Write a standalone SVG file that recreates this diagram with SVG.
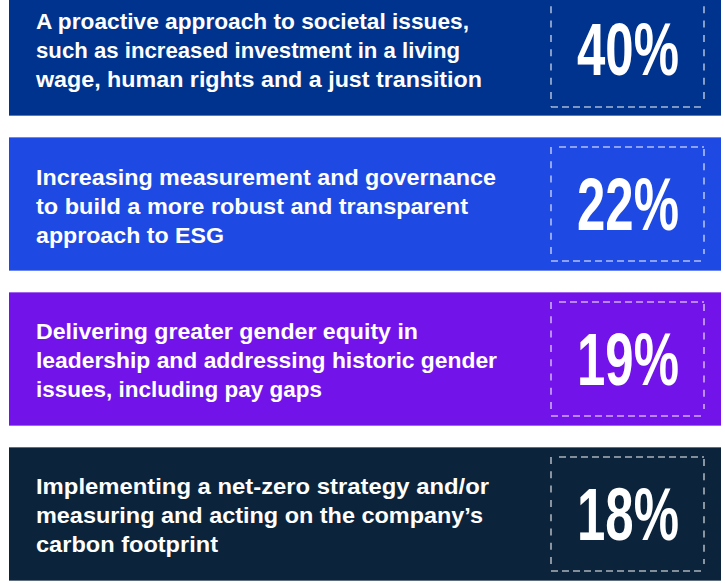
<svg xmlns="http://www.w3.org/2000/svg" width="725" height="583" viewBox="0 0 725 583">
<defs>
<style>
.bar-edge{stroke:#ffffff;stroke-opacity:0.35;stroke-width:1}
.lbl{font-family:"Liberation Sans",Arial,sans-serif;font-weight:bold;font-size:22px;fill:#ffffff}
.pct{font-family:"Liberation Sans",Arial,sans-serif;font-weight:bold;font-size:74px;fill:#ffffff;text-anchor:middle}
.dv{stroke:#ffffff;stroke-opacity:0.65;stroke-width:1.6;stroke-dasharray:7 7.3;fill:none}
.dh{stroke:#ffffff;stroke-opacity:0.65;stroke-width:1.6;stroke-dasharray:7 4;fill:none}
</style>
</defs>
<rect width="725" height="583" fill="#ffffff"/>

<g id="bar1">
<rect x="9" y="-18" width="712" height="134" fill="#00338D"/>
<line class="bar-edge" x1="9" y1="115.5" x2="721" y2="115.5"/>
<text class="lbl" x="36" y="29.3" textLength="433" lengthAdjust="spacingAndGlyphs">A proactive approach to societal issues,</text>
<text class="lbl" x="36" y="58.3" textLength="424" lengthAdjust="spacingAndGlyphs">such as increased investment in a living</text>
<text class="lbl" x="36" y="87.3" textLength="446" lengthAdjust="spacingAndGlyphs">wage, human rights and a just transition</text>
<line class="dv" x1="551" y1="-8" x2="551" y2="107"/>
<line class="dv" x1="704" y1="-8" x2="704" y2="100"/>
<line class="dh" x1="551" y1="107" x2="704" y2="107"/>
<text class="pct" x="628" y="75" textLength="102" lengthAdjust="spacingAndGlyphs">40%</text>
</g>

<g id="bar2">
<rect x="9" y="137" width="712" height="134" fill="#1E49E2"/>
<line class="bar-edge" x1="9" y1="137.5" x2="721" y2="137.5"/>
<line class="bar-edge" x1="9" y1="270.5" x2="721" y2="270.5"/>
<text class="lbl" x="36" y="184.5" textLength="460" lengthAdjust="spacingAndGlyphs">Increasing measurement and governance</text>
<text class="lbl" x="36" y="213.5" textLength="432" lengthAdjust="spacingAndGlyphs">to build a more robust and transparent</text>
<text class="lbl" x="36" y="242.5" textLength="188" lengthAdjust="spacingAndGlyphs">approach to ESG</text>
<line class="dv" x1="551" y1="147" x2="551" y2="261"/>
<line class="dv" x1="704" y1="149" x2="704" y2="254"/>
<line class="dh" x1="559" y1="147" x2="704" y2="147"/>
<line class="dh" x1="551" y1="261" x2="704" y2="261"/>
<text class="pct" x="628" y="229.5" textLength="102" lengthAdjust="spacingAndGlyphs">22%</text>
</g>

<g id="bar3">
<rect x="9" y="292" width="712" height="134" fill="#7213EA"/>
<line class="bar-edge" x1="9" y1="292.5" x2="721" y2="292.5"/>
<line class="bar-edge" x1="9" y1="425.5" x2="721" y2="425.5"/>
<text class="lbl" x="36" y="338.5" textLength="382" lengthAdjust="spacingAndGlyphs">Delivering greater gender equity in</text>
<text class="lbl" x="36" y="367.5" textLength="461" lengthAdjust="spacingAndGlyphs">leadership and addressing historic gender</text>
<text class="lbl" x="36" y="396.5" textLength="286" lengthAdjust="spacingAndGlyphs">issues, including pay gaps</text>
<line class="dv" x1="551" y1="302" x2="551" y2="416"/>
<line class="dv" x1="704" y1="304" x2="704" y2="409"/>
<line class="dh" x1="559" y1="302" x2="704" y2="302"/>
<line class="dh" x1="551" y1="416" x2="704" y2="416"/>
<text class="pct" x="628" y="385" textLength="102" lengthAdjust="spacingAndGlyphs">19%</text>
</g>

<g id="bar4">
<rect x="9" y="447" width="712" height="134" fill="#0C233C"/>
<line class="bar-edge" x1="9" y1="447.5" x2="721" y2="447.5"/>
<line class="bar-edge" x1="9" y1="580.5" x2="721" y2="580.5"/>
<text class="lbl" x="36" y="494.3" textLength="453" lengthAdjust="spacingAndGlyphs">Implementing a net-zero strategy and/or</text>
<text class="lbl" x="36" y="523.3" textLength="447" lengthAdjust="spacingAndGlyphs">measuring and acting on the company’s</text>
<text class="lbl" x="36" y="552.3" textLength="182" lengthAdjust="spacingAndGlyphs">carbon footprint</text>
<line class="dv" x1="551" y1="457" x2="551" y2="571"/>
<line class="dv" x1="704" y1="459" x2="704" y2="564"/>
<line class="dh" x1="559" y1="457" x2="704" y2="457"/>
<line class="dh" x1="551" y1="571" x2="704" y2="571"/>
<text class="pct" x="628" y="539.5" textLength="102" lengthAdjust="spacingAndGlyphs">18%</text>
</g>

<g id="connectors"></g>
</svg>
